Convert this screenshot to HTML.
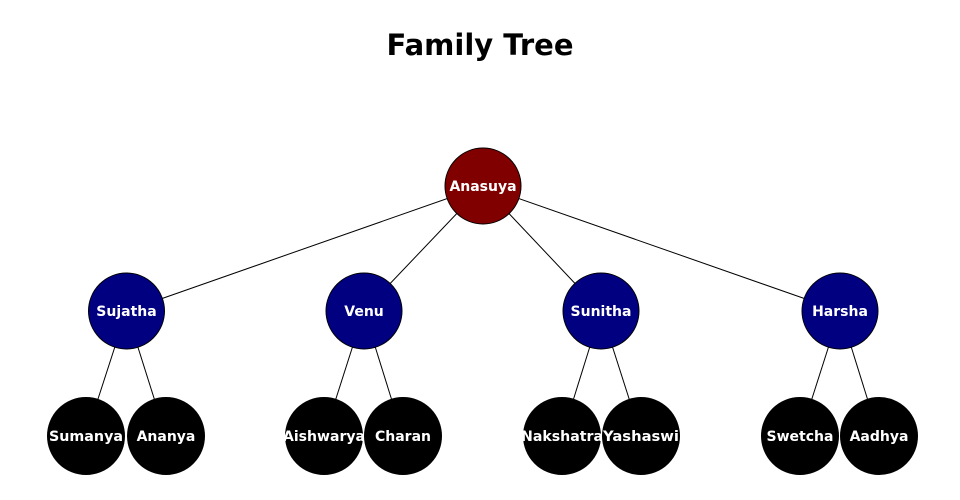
<!DOCTYPE html>
<html><head><style>body{margin:0;background:#fff}svg{display:block}</style></head>
<body>
<svg width="960" height="500" xmlns="http://www.w3.org/2000/svg" font-family="'DejaVu Sans','Liberation Sans',sans-serif" font-weight="bold">
<text x="480" y="55" text-anchor="middle" font-size="29" fill="#000">Family Tree</text>
<g stroke="#000" stroke-width="1">
<line x1="483" y1="186" x2="126.5" y2="311"/><line x1="483" y1="186" x2="364" y2="311"/>
<line x1="483" y1="186" x2="601" y2="311"/><line x1="483" y1="186" x2="840" y2="311"/>
<line x1="126.5" y1="311" x2="86" y2="436"/><line x1="126.5" y1="311" x2="166" y2="436"/>
<line x1="364" y1="311" x2="324" y2="436"/><line x1="364" y1="311" x2="403" y2="436"/>
<line x1="601" y1="311" x2="562" y2="436"/><line x1="601" y1="311" x2="641" y2="436"/>
<line x1="840" y1="311" x2="800" y2="436"/><line x1="840" y1="311" x2="879" y2="436"/>
</g>
<g stroke="#000" stroke-width="1">
<circle cx="483" cy="186" r="38" fill="#800000"/>
<circle cx="126.5" cy="311" r="38" fill="#000080"/>
<circle cx="364" cy="311" r="38" fill="#000080"/>
<circle cx="601" cy="311" r="38" fill="#000080"/>
<circle cx="840" cy="311" r="38" fill="#000080"/>
<circle cx="86" cy="436" r="38.5" fill="#000"/><circle cx="166" cy="436" r="38.5" fill="#000"/>
<circle cx="324" cy="436" r="38.5" fill="#000"/><circle cx="403" cy="436" r="38.5" fill="#000"/>
<circle cx="562" cy="436" r="38.5" fill="#000"/><circle cx="641" cy="436" r="38.5" fill="#000"/>
<circle cx="800" cy="436" r="38.5" fill="#000"/><circle cx="879" cy="436" r="38.5" fill="#000"/>
</g>
<g fill="#fff" font-size="14" text-anchor="middle">
<text x="483" y="191">Anasuya</text>
<text x="126.5" y="316">Sujatha</text><text x="364" y="316">Venu</text>
<text x="601" y="316">Sunitha</text><text x="840" y="316">Harsha</text>
<text x="86" y="441" textLength="74" lengthAdjust="spacingAndGlyphs">Sumanya</text>
<text x="166" y="441">Ananya</text>
<text x="324" y="441" textLength="82" lengthAdjust="spacingAndGlyphs">Aishwarya</text>
<text x="403" y="441">Charan</text>
<text x="562" y="441" textLength="82" lengthAdjust="spacingAndGlyphs">Nakshatra</text>
<text x="641" y="441" textLength="76" lengthAdjust="spacingAndGlyphs">Yashaswi</text>
<text x="800" y="441">Swetcha</text><text x="879" y="441">Aadhya</text>
</g>
</svg>
</body></html>
